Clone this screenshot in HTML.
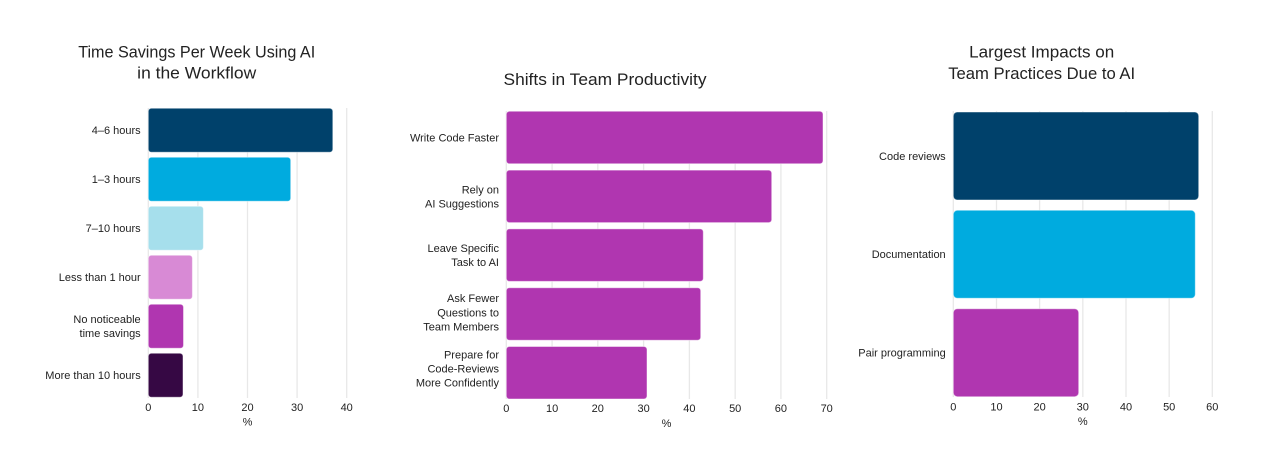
<!DOCTYPE html>
<html>
<head>
<meta charset="utf-8">
<style>
  html,body{margin:0;padding:0;background:#fff;}
  svg{display:block;}
  text{font-family:"Liberation Sans",sans-serif;fill:#222;}
  .t{font-size:17px;text-anchor:middle;}
  .l{font-size:11px;text-anchor:end;}
  .k{font-size:11px;text-anchor:middle;}
  .g{stroke:#e8e8e8;stroke-width:1.3;}
  .b{stroke:rgba(255,255,255,0.45);stroke-width:1;}
</style>
</head>
<body>
<svg width="1272" height="470" viewBox="0 0 1272 470" xmlns="http://www.w3.org/2000/svg">
  <!-- Chart 1 -->
  <text class="t" x="196.7" y="57.5" textLength="237" lengthAdjust="spacingAndGlyphs">Time Savings Per Week Using AI</text>
  <text class="t" x="196.7" y="78.7" textLength="119" lengthAdjust="spacingAndGlyphs">in the Workflow</text>
  <g>
    <line class="g" x1="148.3" y1="108" x2="148.3" y2="398"/>
    <line class="g" x1="197.9" y1="108" x2="197.9" y2="398"/>
    <line class="g" x1="247.5" y1="108" x2="247.5" y2="398"/>
    <line class="g" x1="297.1" y1="108" x2="297.1" y2="398"/>
    <line class="g" x1="346.7" y1="108" x2="346.7" y2="398"/>
  </g>
  <rect class="b" x="148.3" y="108.3" width="184.5" height="44" rx="3" fill="#00416b"/>
  <rect class="b" x="148.3" y="157.3" width="142.4" height="44" rx="3" fill="#00abdf"/>
  <rect class="b" x="148.3" y="206.3" width="55.1" height="44" rx="3" fill="#a6dfec"/>
  <rect class="b" x="148.3" y="255.3" width="44.1" height="44" rx="3" fill="#d88ad5"/>
  <rect class="b" x="148.3" y="304.3" width="35.2" height="44" rx="3" fill="#b036b0"/>
  <rect class="b" x="148.3" y="353.3" width="34.7" height="44" rx="3" fill="#360844"/>
  <text class="l" x="140.7" y="134.2">4–6 hours</text>
  <text class="l" x="140.7" y="183.2">1–3 hours</text>
  <text class="l" x="140.7" y="232.2">7–10 hours</text>
  <text class="l" x="140.7" y="281.2">Less than 1 hour</text>
  <text class="l" x="140.7" y="323.2">No noticeable</text>
  <text class="l" x="140.7" y="337.2">time savings</text>
  <text class="l" x="140.7" y="379.2">More than 10 hours</text>
  <text class="k" x="148.3" y="411">0</text>
  <text class="k" x="197.9" y="411">10</text>
  <text class="k" x="247.5" y="411">20</text>
  <text class="k" x="297.1" y="411">30</text>
  <text class="k" x="346.7" y="411">40</text>
  <text class="k" x="247.5" y="425.5">%</text>

  <!-- Chart 2 -->
  <text class="t" x="605" y="85" textLength="203" lengthAdjust="spacingAndGlyphs">Shifts in Team Productivity</text>
  <g>
    <line class="g" x1="506.3" y1="111" x2="506.3" y2="399"/>
    <line class="g" x1="552.1" y1="111" x2="552.1" y2="399"/>
    <line class="g" x1="597.8" y1="111" x2="597.8" y2="399"/>
    <line class="g" x1="643.6" y1="111" x2="643.6" y2="399"/>
    <line class="g" x1="689.4" y1="111" x2="689.4" y2="399"/>
    <line class="g" x1="735.2" y1="111" x2="735.2" y2="399"/>
    <line class="g" x1="780.9" y1="111" x2="780.9" y2="399"/>
    <line class="g" x1="826.7" y1="111" x2="826.7" y2="399"/>
  </g>
  <rect class="b" x="506.3" y="111.3" width="316.7" height="52.5" rx="3" fill="#b036b0"/>
  <rect class="b" x="506.3" y="170.1" width="265.4" height="52.5" rx="3" fill="#b036b0"/>
  <rect class="b" x="506.3" y="228.9" width="197" height="52.5" rx="3" fill="#b036b0"/>
  <rect class="b" x="506.3" y="287.7" width="194.4" height="52.5" rx="3" fill="#b036b0"/>
  <rect class="b" x="506.3" y="346.5" width="140.7" height="52.5" rx="3" fill="#b036b0"/>
  <text class="l" x="499" y="141.5">Write Code Faster</text>
  <text class="l" x="499" y="193.3">Rely on</text>
  <text class="l" x="499" y="207.3">AI Suggestions</text>
  <text class="l" x="499" y="252.1">Leave Specific</text>
  <text class="l" x="499" y="266.1">Task to AI</text>
  <text class="l" x="499" y="302">Ask Fewer</text>
  <text class="l" x="499" y="316.5">Questions to</text>
  <text class="l" x="499" y="330.5">Team Members</text>
  <text class="l" x="499" y="358.3">Prepare for</text>
  <text class="l" x="499" y="372.3">Code-Reviews</text>
  <text class="l" x="499" y="386.7">More Confidently</text>
  <text class="k" x="506.3" y="412">0</text>
  <text class="k" x="552.1" y="412">10</text>
  <text class="k" x="597.8" y="412">20</text>
  <text class="k" x="643.6" y="412">30</text>
  <text class="k" x="689.4" y="412">40</text>
  <text class="k" x="735.2" y="412">50</text>
  <text class="k" x="780.9" y="412">60</text>
  <text class="k" x="826.7" y="412">70</text>
  <text class="k" x="666.5" y="427">%</text>

  <!-- Chart 3 -->
  <text class="t" x="1041.7" y="57.5" textLength="145" lengthAdjust="spacingAndGlyphs">Largest Impacts on</text>
  <text class="t" x="1041.7" y="79" textLength="187" lengthAdjust="spacingAndGlyphs">Team Practices Due to AI</text>
  <g>
    <line class="g" x1="953.3" y1="111" x2="953.3" y2="397"/>
    <line class="g" x1="996.5" y1="111" x2="996.5" y2="397"/>
    <line class="g" x1="1039.6" y1="111" x2="1039.6" y2="397"/>
    <line class="g" x1="1082.8" y1="111" x2="1082.8" y2="397"/>
    <line class="g" x1="1126" y1="111" x2="1126" y2="397"/>
    <line class="g" x1="1169.2" y1="111" x2="1169.2" y2="397"/>
    <line class="g" x1="1212.3" y1="111" x2="1212.3" y2="397"/>
  </g>
  <rect class="b" x="953.3" y="112" width="245.4" height="88" rx="4" fill="#00416b"/>
  <rect class="b" x="953.3" y="210.3" width="242" height="88" rx="4" fill="#00abdf"/>
  <rect class="b" x="953.3" y="308.7" width="125.4" height="88" rx="4" fill="#b036b0"/>
  <text class="l" x="945.7" y="159.9">Code reviews</text>
  <text class="l" x="945.7" y="258.2">Documentation</text>
  <text class="l" x="945.7" y="356.6">Pair programming</text>
  <text class="k" x="953.3" y="410.5">0</text>
  <text class="k" x="996.5" y="410.5">10</text>
  <text class="k" x="1039.6" y="410.5">20</text>
  <text class="k" x="1082.8" y="410.5">30</text>
  <text class="k" x="1126" y="410.5">40</text>
  <text class="k" x="1169.2" y="410.5">50</text>
  <text class="k" x="1212.3" y="410.5">60</text>
  <text class="k" x="1082.8" y="425">%</text>
</svg>
</body>
</html>
